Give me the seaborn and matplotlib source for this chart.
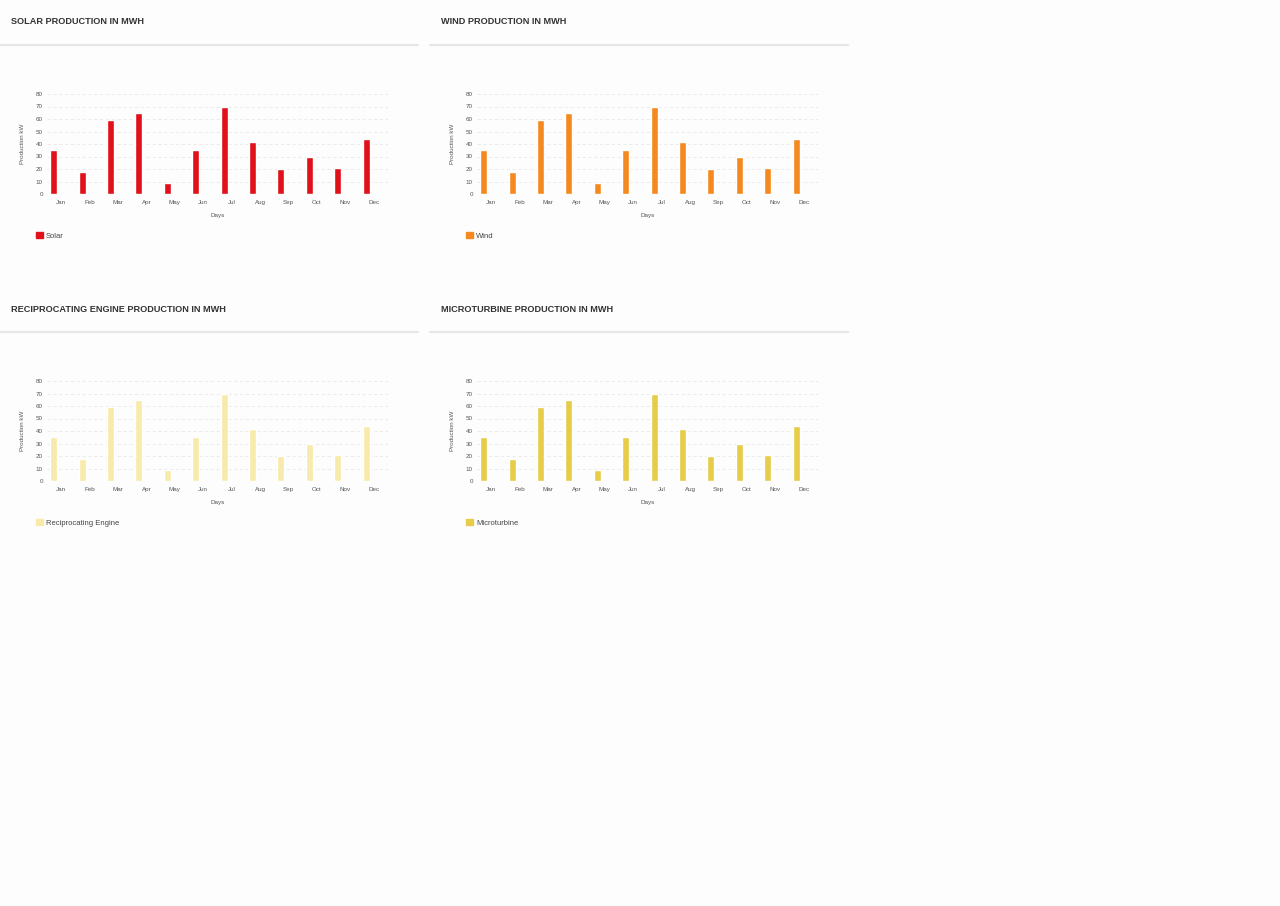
import matplotlib
matplotlib.use("Agg")
import matplotlib.pyplot as plt
import seaborn as sns
import pandas as pd
from matplotlib.lines import Line2D
from matplotlib.patches import Patch

months = ["Jan", "Feb", "Mar", "Apr", "May", "Jun", "Jul", "Aug", "Sep", "Oct", "Nov", "Dec"]
solar = [35, 18, 59, 65, 9, 35, 70, 42, 20, 30, 21, 44]
wind = [35, 18, 59, 65, 9, 35, 70, 42, 20, 30, 21, 44]
reciprocating = [35, 18, 59, 65, 9, 35, 70, 42, 20, 30, 21, 44]
microturbine = [35, 18, 59, 65, 9, 35, 70, 42, 20, 30, 21, 44]
y_ticks = [0, 10, 20, 30, 40, 50, 60, 70, 80]

panels = [
    ("SOLAR PRODUCTION IN MWH", "Solar", solar, "#e1101b"),
    ("WIND PRODUCTION IN MWH", "Wind", wind, "#f5891f"),
    ("RECIPROCATING ENGINE PRODUCTION IN MWH", "Reciprocating Engine", reciprocating, "#f8eaa8"),
    ("MICROTURBINE PRODUCTION IN MWH", "Microturbine", microturbine, "#e6cc48"),
]

sns.set_theme(style="white")
plt.rcParams["font.family"] = ["Liberation Sans", "DejaVu Sans"]

W, H = 1280, 906
fig = plt.figure(figsize=(W / 100, H / 100), dpi=100)
fig.patch.set_facecolor("#fdfdfd")

# pixel offsets of each card (left, top)
origins = [(0, 0), (430, 0), (0, 287), (430, 287)]

for (title, name, values, color), (ox, oy) in zip(panels, origins):
    # card title and separator
    fig.text((ox + 11) / W, 1 - (oy + 22) / H, title, fontsize=6.6, fontweight="bold",
             color="#333333", va="center", ha="left")
    fig.add_artist(Line2D([ox / W, (ox + 418) / W], [1 - (oy + 45) / H] * 2,
                          transform=fig.transFigure, color="#e6e6e6", lw=1.6))

    ax = fig.add_axes([(ox + 47) / W, 1 - (oy + 194) / H, 341 / W, 100 / H])
    ax.set_facecolor("none")
    df = pd.DataFrame({"month": months, "value": values, "series": name})
    levels = [name, "_pad1", "_pad2"]
    sns.barplot(data=df, x="month", y="value", hue="series", hue_order=levels,
                palette={lv: color for lv in levels}, width=0.8, gap=0.08,
                dodge=True, legend=False, errorbar=None, saturation=1, ax=ax)
    ax.set_xlim(-0.5, len(months) - 0.5)
    ax.set_ylim(0, 80)
    ax.set_yticks(y_ticks)
    ax.yaxis.grid(True, color="#e8e8e8", linestyle=(0, (4, 3)), lw=0.6)
    ax.set_axisbelow(True)
    sns.despine(ax=ax, left=True, bottom=True)
    ax.tick_params(axis="both", length=0, labelsize=4.5, colors="#555555")
    ax.tick_params(axis="y", pad=3)
    ax.tick_params(axis="x", pad=4)
    ax.set_xlabel("Days", fontsize=4.5, color="#555555", labelpad=6)
    ax.set_ylabel("Production kW", fontsize=4.5, color="#555555", labelpad=8)

    fig.legend(handles=[Patch(facecolor=color, edgecolor=color)], labels=[name],
               loc="center left", bbox_to_anchor=((ox + 36) / W, 1 - (oy + 236) / H),
               frameon=False, fontsize=5.5, handlelength=0.9, handleheight=0.9,
               handletextpad=0.4, borderpad=0, borderaxespad=0, labelcolor="#444444")

fig.savefig("out.png", dpi=100, facecolor=fig.get_facecolor())
